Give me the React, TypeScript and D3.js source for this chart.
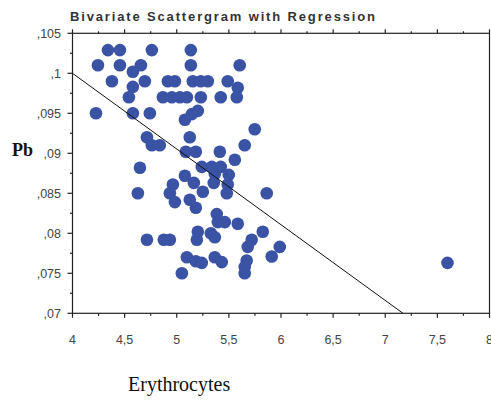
import React from "react";
import * as d3 from "d3";

const erythrocytes = [
  4.34, 4.455, 4.761, 5.135, 4.244, 4.455, 4.656, 5.135, 5.604, 4.579,
  4.378, 4.694, 4.915, 4.982, 5.154, 5.231, 5.298, 5.489, 4.579, 5.585,
  4.541, 4.867, 4.953, 5.03, 5.097, 5.231, 5.422, 5.576, 4.225, 4.579,
  4.742, 5.202, 5.145, 5.078, 5.748, 4.714, 5.125, 4.761, 4.837, 5.652,
  5.087, 5.183, 5.413, 5.557, 4.647, 5.24, 5.336, 5.422, 5.499, 5.365,
  5.078, 4.963, 5.164, 5.355, 5.489, 4.627, 4.934, 5.25, 5.48, 5.863,
  4.982, 5.125, 5.183, 5.384, 5.394, 5.461, 5.585, 5.327, 5.202, 5.193,
  5.365, 5.825, 4.714, 4.876, 4.934, 5.719, 5.681, 5.988, 5.911, 5.097,
  5.183, 5.24, 5.365, 5.432, 5.671, 5.652, 5.652, 5.049, 7.597,
];
const pb = [
  0.1029, 0.1029, 0.1029, 0.1029, 0.101, 0.101, 0.101, 0.101, 0.101, 0.1002,
  0.099, 0.099, 0.099, 0.099, 0.099, 0.099, 0.099, 0.099, 0.0983, 0.0982,
  0.097, 0.097, 0.097, 0.097, 0.097, 0.097, 0.097, 0.097, 0.095, 0.095,
  0.095, 0.0953, 0.0949, 0.0942, 0.093, 0.092, 0.092, 0.091, 0.091, 0.091,
  0.0902, 0.0902, 0.0902, 0.0892, 0.0882, 0.0883, 0.0883, 0.0883, 0.0873, 0.0874,
  0.0872, 0.0861, 0.0863, 0.0863, 0.0861, 0.085, 0.085, 0.0852, 0.085, 0.085,
  0.0839, 0.0842, 0.0832, 0.0824, 0.0814, 0.0814, 0.0812, 0.08, 0.0802, 0.0792,
  0.0795, 0.0802, 0.0792, 0.0792, 0.0792, 0.0792, 0.0783, 0.0783, 0.0771, 0.077,
  0.0765, 0.0763, 0.077, 0.0764, 0.0766, 0.0758, 0.075, 0.075, 0.0763,
];
const regressionX = [4, 7.17];
const regressionY = [0.1, 0.07];
const xTicks = [4, 4.5, 5, 5.5, 6, 6.5, 7, 7.5, 8];
const yTicks = [0.07, 0.075, 0.08, 0.085, 0.09, 0.095, 0.1, 0.105];

const W = 491;
const H = 403;
const L = 72.5, R = 489.5, T = 33.3, B = 313.3;

function fmt(v: number): string {
  let s = d3.format(".3~f")(v);
  if (s.startsWith("0.")) s = s.slice(1);
  return s.replace(".", ",");
}

export default function App() {
  const x = d3.scaleLinear().domain([4, 8]).range([L, R]);
  const y = d3.scaleLinear().domain([0.07, 0.105]).range([B, T]);
  const xMinor = d3.range(4, 8.001, 0.25);
  const yMinor = d3.range(0, 15).map((i) => 0.07 + i * 0.0025);
  const line = d3.line<[number, number]>().x((d) => x(d[0])).y((d) => y(d[1]));
  const reg: [number, number][] = regressionX.map((v, i) => [v, regressionY[i]]);
  const axisColor = "#222";
  const labelColor = "#444";
  return (
    <svg width={W} height={H} style={{ position: "absolute", left: 0, top: 0, background: "#fff" }}>
      <text x={70} y={20.5} fontFamily="Liberation Sans, Arial, sans-serif" fontSize={13} fontWeight="bold" fill="#333" textLength={305} lengthAdjust="spacing">
        Bivariate Scattergram with Regression
      </text>
      {erythrocytes.map((v, i) => (
        <circle key={i} cx={x(v)} cy={y(pb[i])} r={6.3} fill="#3a53a4" />
      ))}
      <path d={line(reg) || ""} fill="none" stroke="#111" strokeWidth={1} />
      <rect x={L} y={T} width={R - L} height={B - T} fill="none" stroke={axisColor} strokeWidth={1.2} />
      {xMinor.map((v, i) => {
        const major = i % 2 === 0;
        return (
          <g key={"xt" + i}>
            <line x1={x(v)} x2={x(v)} y1={B} y2={B + (major ? 4.5 : 2.5)} stroke={axisColor} strokeWidth={1.2} />
            <line x1={x(v)} x2={x(v)} y1={T} y2={T - (major ? 4 : 2)} stroke={axisColor} strokeWidth={1.2} />
          </g>
        );
      })}
      {yMinor.map((v, i) => {
        const major = i % 2 === 0;
        return (
          <line key={"yt" + i} x1={L} x2={L - (major ? 5 : 2.5)} y1={y(v)} y2={y(v)} stroke={axisColor} strokeWidth={1.2} />
        );
      })}
      {xTicks.map((v) => (
        <text key={"xl" + v} x={x(v)} y={344} textAnchor="middle" fontFamily="Liberation Sans, Arial, sans-serif" fontSize={12.5} fill={labelColor}>
          {fmt(v)}
        </text>
      ))}
      {yTicks.map((v) => (
        <text key={"yl" + v} x={61} y={y(v) + 4.5} textAnchor="end" fontFamily="Liberation Sans, Arial, sans-serif" fontSize={12.5} fill={labelColor}>
          {fmt(v)}
        </text>
      ))}
      <text x={12} y={156} fontFamily="Liberation Serif, Times New Roman, serif" fontSize={18} fontWeight="bold" fill="#1a1208">
        Pb
      </text>
      <text x={128} y={391} fontFamily="Liberation Serif, Times New Roman, serif" fontSize={20} fill="#111">
        Erythrocytes
      </text>
    </svg>
  );
}
